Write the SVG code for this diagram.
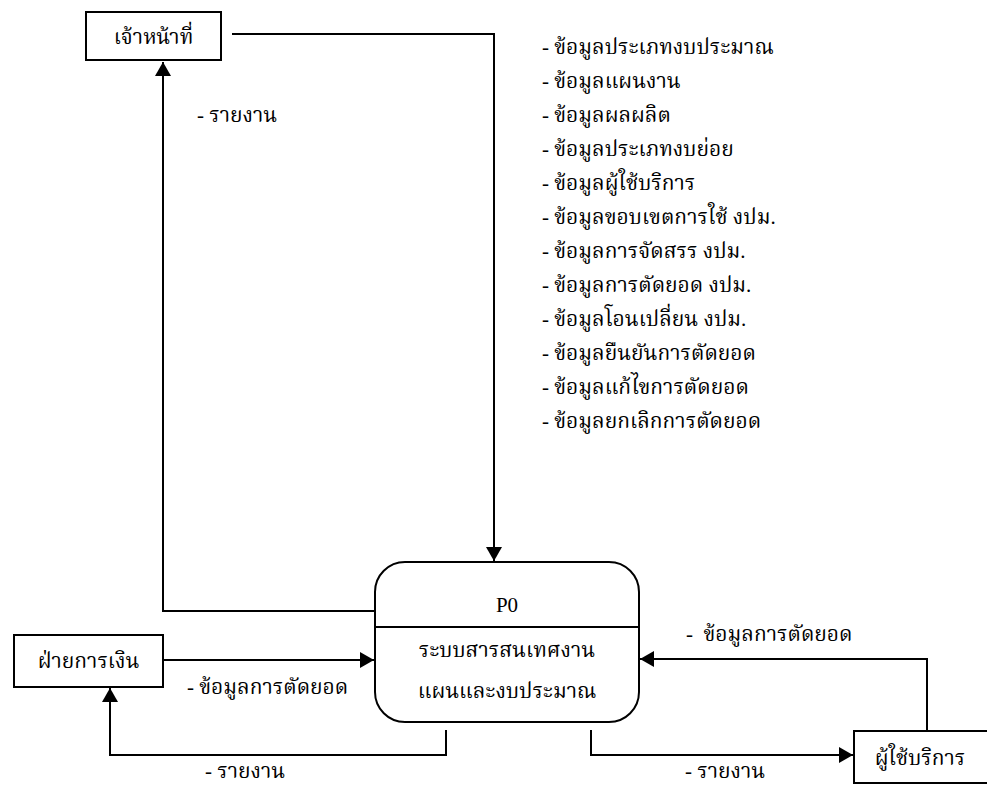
<svg xmlns="http://www.w3.org/2000/svg" width="987" height="787" viewBox="0 0 987 787">
<style>
text { font-family: "Liberation Serif", "Noto Serif Thai", "Noto Sans Thai", serif; font-size: 21px; fill: #000; white-space: pre; }
.box { fill: #fff; stroke: #000; stroke-width: 2; }
.ln { fill: none; stroke: #000; stroke-width: 2; }
.c { text-anchor: middle; }
</style>
<defs>
<marker id="ah" viewBox="0 0 14 16" refX="14" refY="8" markerWidth="14" markerHeight="16" markerUnits="userSpaceOnUse" orient="auto">
<path d="M0,0 L14,8 L0,16 Z" fill="#000"/>
</marker>
</defs>
<g id="connectors">
<path class="ln" d="M232,34 H494 V561" marker-end="url(#ah)"/>
<path class="ln" d="M375,611 H163 V62" marker-end="url(#ah)"/>
<path class="ln" d="M163,660 H374" marker-end="url(#ah)"/>
<path class="ln" d="M446,730 V755 H110 V688" marker-end="url(#ah)"/>
<path class="ln" d="M591,730 V755 H853" marker-end="url(#ah)"/>
<path class="ln" d="M927,731 V659 H640" marker-end="url(#ah)"/>
</g>
<g id="node-officer">
<rect class="box" x="86" y="12" width="135" height="48"/>
<text class="c" x="153.5" y="44">เจ้าหน้าที่</text>
</g>
<g id="node-finance">
<rect class="box" x="14" y="635" width="149" height="52"/>
<text class="c" x="88.5" y="668">ฝ่ายการเงิน</text>
</g>
<g id="node-user">
<rect class="box" x="854" y="731" width="140" height="52"/>
<text class="c" x="920" y="765">ผู้ใช้บริการ</text>
</g>
<g id="node-p0">
<rect class="box" x="375" y="562" width="264" height="160" rx="30" ry="30"/>
<line class="ln" x1="375" y1="627" x2="639" y2="627"/>
<text class="c" x="507" y="612">P0</text>
<text class="c" x="507" y="657">ระบบสารสนเทศงาน</text>
<text class="c" x="507" y="698">แผนและงบประมาณ</text>
</g>
<g id="labels">
<text x="197" y="122">- รายงาน</text>
<text x="187" y="694">- ข้อมูลการตัดยอด</text>
<text x="205" y="778">- รายงาน</text>
<text x="685" y="778">- รายงาน</text>
<text x="686" y="641">-  ข้อมูลการตัดยอด</text>
<text x="542" y="54">- ข้อมูลประเภทงบประมาณ</text>
<text x="542" y="88">- ข้อมูลแผนงาน</text>
<text x="542" y="122">- ข้อมูลผลผลิต</text>
<text x="542" y="156">- ข้อมูลประเภทงบย่อย</text>
<text x="542" y="190">- ข้อมูลผู้ใช้บริการ</text>
<text x="542" y="224">- ข้อมูลขอบเขตการใช้ งปม.</text>
<text x="542" y="258">- ข้อมูลการจัดสรร งปม.</text>
<text x="542" y="292">- ข้อมูลการตัดยอด งปม.</text>
<text x="542" y="326">- ข้อมูลโอนเปลี่ยน งปม.</text>
<text x="542" y="360">- ข้อมูลยืนยันการตัดยอด</text>
<text x="542" y="394">- ข้อมูลแก้ไขการตัดยอด</text>
<text x="542" y="428">- ข้อมูลยกเลิกการตัดยอด</text>
</g>
</svg>
